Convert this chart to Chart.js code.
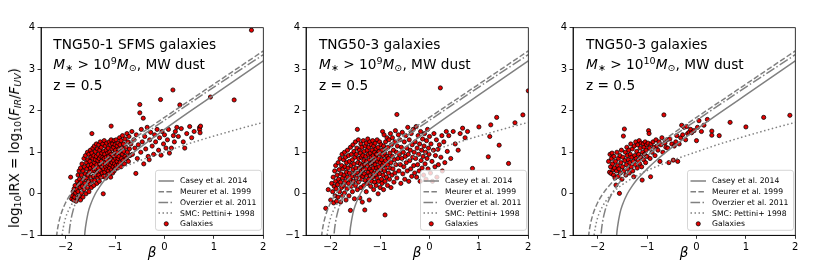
<!DOCTYPE html>
<html><head><meta charset="utf-8">
<script src="https://cdn.jsdelivr.net/npm/chart.js@4/dist/chart.umd.min.js"></script>
<style>
body{margin:0;background:#fff;width:830px;height:277px;overflow:hidden;position:relative;font-family:"DejaVu Sans",sans-serif;}
canvas{position:absolute;top:0;}
.ann{position:absolute;font-size:13.7px;white-space:nowrap;line-height:20px;color:#000;}
.ann sub,.ylab sub{font-size:0.7em;vertical-align:-0.25em;line-height:0;}
.ann sup{font-size:0.7em;vertical-align:0.5em;line-height:0;}
.ylab{position:absolute;font-size:13.4px;white-space:nowrap;line-height:16px;color:#000;transform:translate(-50%,-50%) rotate(-90deg);}
</style></head><body>
<canvas id="c1" width="275" height="277" style="left:0px"></canvas>
<canvas id="c2" width="270" height="277" style="left:275px"></canvas>
<canvas id="c3" width="285" height="277" style="left:545px"></canvas>

<div class="ylab" style="left:15px;top:148px">log<sub>10</sub>IRX = log<sub>10</sub>(<i>F</i><sub><i>IR</i></sub>/<i>F</i><sub><i>UV</i></sub>)</div>

<div class="ann" style="left:53.3px;top:33.6px">TNG50-1 SFMS galaxies</div>
<div class="ann" style="left:53.3px;top:54.1px"><i>M</i><sub>∗</sub> &gt; 10<sup>9</sup><i>M</i><sub>⊙</sub>, MW dust</div>
<div class="ann" style="left:53.3px;top:75.3px">z = 0.5</div>

<div class="ann" style="left:319px;top:33.6px">TNG50-3 galaxies</div>
<div class="ann" style="left:319px;top:54.1px"><i>M</i><sub>∗</sub> &gt; 10<sup>9</sup><i>M</i><sub>⊙</sub>, MW dust</div>
<div class="ann" style="left:319px;top:75.3px">z = 0.5</div>

<div class="ann" style="left:586px;top:33.6px">TNG50-3 galaxies</div>
<div class="ann" style="left:586px;top:54.1px"><i>M</i><sub>∗</sub> &gt; 10<sup>10</sup><i>M</i><sub>⊙</sub>, MW dust</div>
<div class="ann" style="left:586px;top:75.3px">z = 0.5</div>

<script>
// ---------- DATA ----------
const xTicks = [-2, -1, 0, 1, 2];
const yTicks = [-1, 0, 1, 2, 3, 4];

const caseyBeta = [-1.625,-1.615,-1.6,-1.55,-1.5,-1.4,-1.3,-1.2,-1.0,-0.8,-0.5,0,0.5,1,1.5,2];
const caseyIrx  = [-1.15,-0.98,-0.81,-0.47,-0.27,0.00,0.19,0.35,0.60,0.82,1.11,1.55,1.97,2.38,2.79,3.20];

const meurerBeta = [-2.2,-2.18,-2.15,-2.1,-2.0,-1.9,-1.8,-1.6,-1.4,-1.2,-1.0,-0.5,0,0.5,1,1.5,2];
const meurerIrx  = [-1.24,-0.98,-0.75,-0.51,-0.21,-0.01,0.15,0.41,0.63,0.82,1.00,1.43,1.84,2.24,2.64,3.04,3.44];

const overzierBeta = [-1.95,-1.93,-1.9,-1.85,-1.8,-1.7,-1.6,-1.4,-1.2,-1.0,-0.5,0,0.5,1,1.5,2];
const overzierIrx  = [-1.34,-0.95,-0.67,-0.40,-0.22,0.03,0.21,0.49,0.72,0.92,1.36,1.77,2.17,2.57,2.96,3.35];

const smcBeta = [-2.09,-2.07,-2.05,-2.0,-1.9,-1.8,-1.6,-1.4,-1.2,-1.0,-0.5,0,0.5,1,1.5,2];
const smcIrx  = [-1.19,-0.97,-0.82,-0.57,-0.30,-0.12,0.13,0.30,0.44,0.56,0.80,1.01,1.21,1.39,1.56,1.72];

const galaxies1 = [
[-1.88,-0.12],[-1.86,-0.05],[-1.85,0.05],[-1.84,-0.15],[-1.83,0.12],[-1.82,-0.08],[-1.81,0.2],[-1.80,0.02],[-1.90,0.40],[-1.79,-0.18],[-1.78,0.1],[-1.77,0.3],
[-1.76,-0.1],[-1.75,0.45],[-1.75,0.05],[-1.74,0.22],[-1.73,0.55],[-1.72,-0.05],[-1.72,0.35],[-1.71,0.15],[-1.70,0.62],[-1.70,-0.15],[-1.69,0.28],[-1.68,0.45],[-1.68,0.02],[-1.67,0.72],[-1.66,0.18],
[-1.65,0.55],[-1.65,-0.08],[-1.64,0.35],[-1.63,0.85],[-1.63,0.1],[-1.62,0.65],[-1.61,0.25],[-1.60,0.48],[-1.60,0.92],[-1.59,0.0],[-1.58,0.75],[-1.58,0.38],[-1.57,0.6],[-1.56,0.15],[-1.56,1.0],[-1.55,0.45],[-1.55,0.82],
[-1.54,0.3],[-1.54,0.68],[-1.53,0.95],[-1.53,0.05],[-1.52,0.52],[-1.51,0.78],[-1.51,0.22],[-1.50,1.05],[-1.50,0.62],[-1.49,0.4],[-1.49,0.88],[-1.48,0.15],[-1.48,0.7],[-1.47,1.45],[-1.47,0.98],[-1.46,0.55],[-1.46,0.32],[-1.45,0.85],[-1.45,1.1],
[-1.44,0.65],[-1.44,0.42],[-1.43,0.92],[-1.43,0.2],[-1.42,0.75],[-1.42,1.15],[-1.41,0.55],[-1.41,0.32],[-1.40,1.02],[-1.40,0.82],[-1.39,0.6],[-1.39,0.45],[-1.38,1.2],[-1.38,0.9],[-1.37,0.7],[-1.37,0.25],[-1.36,1.08],[-1.36,0.52],[-1.35,0.8],[-1.35,0.38],
[-1.34,0.95],[-1.34,0.62],[-1.33,1.18],[-1.33,0.45],[-1.32,0.85],[-1.32,0.3],[-1.31,1.05],[-1.31,0.72],[-1.30,0.55],[-1.30,1.25],[-1.29,0.9],[-1.29,0.4],[-1.28,0.78],[-1.28,1.12],[-1.27,0.65],[-1.27,0.98],[-1.26,0.5],[-1.24,0.0],[-1.25,0.88],[-1.25,1.2],
[-1.24,0.7],[-1.24,0.42],[-1.23,1.02],[-1.23,0.6],[-1.22,0.85],[-1.22,1.28],[-1.21,0.52],[-1.21,0.95],[-1.20,0.75],[-1.20,1.15],[-1.19,0.65],[-1.19,0.38],[-1.18,1.05],[-1.18,0.88],[-1.17,0.58],[-1.17,1.22],[-1.16,0.8],[-1.16,0.45],[-1.15,0.98],[-1.15,0.68],
[-1.14,1.1],[-1.14,0.55],[-1.13,0.9],[-1.13,0.72],[-1.12,1.25],[-1.12,0.48],[-1.11,1.0],[-1.11,0.62],[-1.10,0.82],[-1.10,1.18],[-1.09,0.7],[-1.09,0.4],[-1.08,0.95],[-1.08,1.3],[-1.07,0.58],[-1.07,0.88],[-1.06,1.08],[-1.06,0.75],[-1.05,0.5],[-1.05,1.2],
[-1.04,0.92],[-1.04,0.65],[-1.03,1.12],[-1.03,0.8],[-1.02,1.28],[-1.02,0.55],[-1.01,0.98],[-1.01,0.72],[-1.00,1.18],[-1.00,0.6],[-0.99,0.85],[-0.99,1.05],[-0.98,0.68],[-0.98,1.3],[-0.97,0.92],[-0.96,0.78],[-0.96,1.15],[-0.95,0.62],[-0.95,1.0],[-1.08,1.63],
[-0.94,0.85],[-0.94,1.22],[-0.93,0.7],[-0.92,1.08],[-0.92,0.9],[-0.91,1.35],[-0.90,0.75],[-0.90,1.18],[-0.89,0.98],[-0.88,0.65],[-0.88,1.28],[-0.87,0.85],[-0.86,1.1],[-0.85,0.95],[-0.85,1.4],
[-0.84,0.8],[-0.83,1.2],[-0.82,1.02],[-0.81,0.72],[-0.80,1.32],[-0.80,0.9],[-0.78,1.12],[-0.77,0.85],[-0.76,1.45],[-0.75,1.0],[-0.74,1.25],[-0.73,0.78],[-0.72,1.38],[-0.71,1.08],[-0.70,0.92],
[-0.68,1.2],[-0.66,1.5],[-0.65,0.95],[-0.62,1.3],[-0.6,1.1],[-0.58,0.49],[-0.57,1.42],[-0.55,0.85],[-0.53,1.18],[-0.5,2.15],[-0.5,1.95],[-0.48,1.0],[-0.47,1.55],[-0.45,1.25],[-0.43,1.82],[-0.42,0.72],[-0.4,1.38],[-0.38,1.08],[-0.35,1.6],[-0.33,0.9],[-0.31,0.82],[-0.3,1.3],[-0.28,1.48],[-0.25,1.15],[-0.22,0.95],[-0.2,1.42],[-0.18,1.25],[-0.15,1.55],[-0.12,1.05],[-0.1,1.35],[-0.08,2.27],[-0.07,0.93],[-0.05,1.5],[-0.02,1.2],[0.0,1.42],[0.03,1.1],[0.06,1.3],[0.08,1.55],[0.1,0.98],[0.14,1.1],[0.17,2.5],[0.18,1.4],[0.2,1.25],[0.22,1.5],[0.25,1.6],[0.28,1.38],[0.31,2.14],[0.34,1.57],[0.38,1.25],[0.41,1.10],[0.45,1.45],[0.51,1.62],[0.55,1.35],[0.6,1.5],[0.71,1.60],[0.71,1.55],[0.72,1.47],[0.73,1.63],[0.93,2.33],[1.41,2.26],[1.76,3.94]
];

const galaxies2 = [
[-2.10,-0.35],[-2.05,0.1],[-2.0,-0.15],[-1.98,0.25],[-1.96,0.05],[-1.95,0.4],[-1.94,-0.22],[-1.93,0.18],[-1.92,0.55],[-1.91,-0.05],[-1.90,0.3],[-1.90,0.68],[-1.89,0.12],[-1.88,-0.18],
[-1.87,0.45],[-1.86,0.22],[-1.85,0.75],[-1.85,-0.08],[-1.84,0.35],[-1.83,0.58],[-1.82,0.05],[-1.81,0.85],[-1.80,0.28],[-1.80,-0.2],[-1.79,0.48],[-1.78,0.68],[-1.78,0.15],[-1.77,0.95],[-1.76,0.38],[-1.76,-0.05],[-1.75,0.6],
[-1.74,0.82],[-1.74,0.2],[-1.73,0.45],[-1.72,1.0],[-1.72,0.02],[-1.71,0.65],[-1.70,0.3],[-1.70,0.88],[-1.69,-0.15],[-1.68,0.52],[-1.68,0.75],[-1.67,0.12],[-1.66,1.05],[-1.66,0.4],[-1.65,0.62],[-1.64,0.25],[-1.64,0.92],[-1.63,-0.05],[-1.62,0.78],[-1.62,0.5],[-1.61,0.35],[-1.60,1.12],[-1.60,-0.4],
[-1.59,0.68],[-1.58,0.18],[-1.58,0.95],[-1.57,0.42],[-1.56,0.82],[-1.56,0.05],[-1.55,1.18],[-1.55,0.58],[-1.54,0.3],[-1.53,0.72],[-1.53,1.02],[-1.52,-0.12],[-1.52,0.48],[-1.51,0.88],[-1.50,0.2],[-1.50,1.25],[-1.49,0.62],[-1.48,0.38],[-1.48,0.95],[-1.47,1.1],[-1.46,1.55],[-1.46,0.1],[-1.45,0.75],[-1.45,0.5],
[-1.44,1.3],[-1.44,0.28],[-1.43,0.85],[-1.42,0.62],[-1.42,1.05],[-1.41,-0.1],[-1.41,0.45],[-1.40,0.98],[-1.40,0.72],[-1.39,1.2],[-1.39,0.15],[-1.38,0.55],[-1.38,0.88],[-1.37,0.35],[-1.37,1.12],[-1.36,0.68],[-1.36,-0.2],[-1.35,0.92],[-1.35,0.42],[-1.34,1.28],[-1.34,0.58],[-1.33,0.8],[-1.33,0.2],[-1.32,1.02],[-1.32,0.48],[-1.31,-0.39],[-1.31,0.7],[-1.30,1.15],[-1.30,0.32],
[-1.29,0.9],[-1.29,0.6],[-1.28,1.22],[-1.28,0.05],[-1.27,0.78],[-1.27,0.42],[-1.26,1.05],[-1.26,0.25],[-1.25,0.68],[-1.25,1.32],[-1.24,0.52],[-1.24,0.95],[-1.23,0.35],[-1.23,1.12],[-1.22,0.82],[-1.22,-0.15],[-1.21,0.6],[-1.21,1.25],[-1.20,0.45],[-1.20,0.98],[-1.19,0.72],[-1.19,0.18],[-1.18,1.18],[-1.18,0.88],[-1.17,0.55],[-1.17,0.3],[-1.16,1.05],[-1.16,0.75],[-1.15,0.4],[-1.15,1.28],
[-1.14,0.62],[-1.14,0.92],[-1.13,0.1],[-1.13,1.15],[-1.12,0.5],[-1.12,0.8],[-1.11,1.0],[-1.11,0.28],[-1.10,0.7],[-1.10,1.22],[-1.09,0.45],[-1.09,0.88],[-1.08,1.08],[-1.08,0.2],[-1.07,0.62],[-1.07,0.95],[-1.06,1.3],[-1.06,0.38],[-1.05,0.78],[-1.05,0.55],[-1.04,1.12],[-1.04,0.0],[-1.03,0.85],[-1.03,0.3],[-1.02,1.02],[-1.02,0.65],[-1.01,0.48],[-1.01,1.25],[-1.00,0.75],[-1.00,0.15],
[-0.99,0.95],[-0.98,0.58],[-0.98,1.18],[-0.97,0.35],[-0.97,0.82],[-0.96,1.05],[-0.96,0.25],[-0.95,1.5],[-0.95,0.68],[-0.94,0.45],[-0.94,0.92],[-0.93,1.15],[-0.93,0.1],[-0.92,0.75],[-0.92,1.42],[-0.91,0.55],[-0.91,0.98],[-0.90,-0.51],[-0.90,0.3],[-0.89,1.25],[-0.89,0.8],[-0.88,0.62],[-0.88,1.08],[-0.87,0.4],[-0.86,0.9],[-0.86,1.35],[-0.85,0.2],[-0.85,0.7],
[-0.84,1.12],[-0.83,0.5],[-0.83,0.85],[-0.82,1.3],[-0.81,0.35],[-0.80,0.98],[-0.80,0.62],[-0.79,1.45],[-0.78,0.75],[-0.78,0.15],[-0.77,1.18],[-0.76,0.45],[-0.75,0.9],[-0.75,1.35],[-0.74,0.6],[-0.73,1.05],[-0.72,0.28],[-0.71,0.82],[-0.70,1.25],[-0.70,0.5],[-0.69,1.52],[-0.68,0.7],[-0.67,1.0],[-0.66,1.91],[-0.66,0.38],[-0.65,1.15],[-0.64,0.85],[-0.63,1.42],[-0.62,0.55],[-0.61,0.95],[-0.60,1.3],
[-0.59,0.7],[-0.58,0.25],[-0.57,1.12],[-0.56,0.85],[-0.55,1.48],[-0.54,0.48],[-0.53,1.0],[-0.52,0.65],[-0.51,1.25],[-0.50,0.35],[-0.49,0.9],[-0.48,1.4],[-0.47,0.75],[-0.46,1.1],[-0.45,0.55],[-0.44,1.6],[-0.43,0.95],[-0.42,0.3],[-0.41,1.3],[-0.40,0.8],[-0.39,1.05],[-0.38,0.6],[-0.37,1.45],[-0.36,0.42],[-0.35,1.18],[-0.34,0.88],[-0.33,1.55],[-0.32,0.68],[-0.31,1.0],[-0.30,0.5],
[-0.29,1.25],[-0.28,0.85],[-0.27,1.62],[-0.26,0.4],[-0.25,1.1],[-0.24,0.7],[-0.23,1.4],[-0.22,0.95],[-0.21,0.55],[-0.20,1.2],[-0.19,0.3],[-0.18,1.5],[-0.17,0.8],[-0.16,1.05],[-0.15,0.62],[-0.14,1.32],[-0.13,0.9],[-0.12,0.45],[-0.11,1.15],[-0.10,1.45],[-0.09,0.72],[-0.08,1.0],[-0.07,0.35],[-0.06,1.28],[-0.05,0.85],[-0.04,1.55],[-0.03,0.6],[-0.02,1.1],[-0.01,0.95],[0.0,1.38],
[0.02,0.5],[0.03,1.2],[0.05,0.78],[0.06,0.3],[0.08,1.05],[0.09,1.45],[0.11,0.65],[0.12,0.92],[0.14,1.3],[0.15,0.4],[0.17,1.07],[0.18,0.7],[0.2,1.18],[0.22,2.55],[0.23,0.88],[0.25,1.4],[0.26,0.55],[0.29,1.25],[0.31,0.75],[0.34,1.5],[0.36,1.02],[0.39,1.4],[0.43,0.85],[0.48,1.5],[0.52,1.2],
[0.58,1.05],[0.62,1.45],[0.67,1.58],[0.72,1.35],[0.77,1.5],[0.87,0.61],[1.0,1.61],[1.19,0.89],[1.22,1.38],[1.24,1.66],[1.36,1.84],[1.41,1.17],[1.6,0.73],[1.73,1.71],[1.89,1.9],[2.0,2.48]
];

const galaxies3 = [
[-1.78,0.78],[-1.76,0.52],[-1.75,0.95],[-1.74,0.65],[-1.73,0.49],[-1.72,0.85],[-1.71,0.98],[-1.70,0.72],[-1.69,0.58],[-1.68,0.45],[-1.67,0.9],[-1.66,0.62],[-1.65,0.38],[-1.64,0.78],[-1.63,0.21],[-1.62,0.55],[-1.61,1.0],[-1.60,0.68],[-1.59,0.42],[-1.58,0.85],[-1.57,0.6],[-1.56,0.01],[-1.55,0.92],[-1.54,0.5],[-1.53,0.75],[-1.52,1.05],[-1.51,0.35],[-1.50,0.65],[-1.49,0.88],[-1.48,1.39],[-1.47,0.55],[-1.46,1.56],[-1.45,0.8],[-1.44,1.0],[-1.43,0.45],[-1.42,0.7],[-1.41,1.12],[-1.40,0.92],[-1.39,0.6],[-1.38,0.82],[-1.37,1.05],[-1.36,0.5],[-1.35,0.75],[-1.34,0.95],[-1.33,1.2],[-1.32,0.65],[-1.31,0.88],[-1.30,1.08],[-1.29,0.55],[-1.28,0.78],[-1.27,0.41],[-1.26,1.15],[-1.25,0.92],[-1.24,0.7],[-1.23,1.25],[-1.22,0.85],[-1.21,1.02],[-1.20,0.62],[-1.19,1.18],[-1.18,0.8],[-1.17,0.95],[-1.16,1.28],[-1.15,0.72],[-1.14,1.1],[-1.13,0.88],[-1.12,1.22],[-1.11,0.65],[-1.10,0.33],[-1.09,1.0],[-1.08,1.2],[-1.07,0.82],[-1.06,1.12],[-1.05,0.95],[-1.04,1.25],[-1.03,0.75],[-1.02,1.05],[-1.01,1.18],[-1.0,0.9],[-0.98,1.22],[-0.97,1.52],[-0.96,1.45],[-0.95,1.1],[-0.94,0.85],[-0.93,0.41],[-0.92,1.2],[-0.9,1.0],[-0.88,1.25],[-0.86,1.12],[-0.84,0.92],[-0.82,1.3],[-0.8,1.15],[-0.78,1.05],[-0.76,1.25],[-0.74,0.78],[-0.72,1.18],[-0.7,1.35],[-0.68,1.0],[-0.66,1.9],[-0.64,1.22],[-0.62,1.12],[-0.6,1.3],[-0.58,1.1],[-0.56,0.75],[-0.54,1.32],[-0.5,1.2],[-0.47,0.81],[-0.45,1.15],[-0.42,1.25],[-0.4,1.4],[-0.38,0.78],[-0.35,1.2],[-0.32,1.35],[-0.3,1.65],[-0.28,1.42],[-0.25,1.6],[-0.22,1.3],[-0.2,1.62],[-0.18,1.45],[-0.15,1.48],[-0.12,1.55],[-0.1,1.47],[-0.05,1.52],[0.0,1.28],[0.02,1.6],[0.05,1.76],[0.1,1.5],[0.15,1.65],[0.22,1.79],[0.31,1.51],[0.31,1.41],[0.46,1.40],[0.68,1.72],[1.0,1.61],[1.36,1.84],[1.89,1.89]
];

// ---------- RENDERING ----------
const FONT = '"DejaVu Sans", sans-serif';
const GRAY = '#808080';
const fmt = v => (v < 0 ? '\u2212' + Math.abs(v) : String(v));
const pairs = (xs, ys) => xs.map((x, i) => ({x, y: ys[i]}));

const frameAndLegend = {
  id: 'frameAndLegend',
  afterDatasetsDraw(chart) {
    const ctx = chart.ctx, a = chart.chartArea;
    ctx.save();
    ctx.strokeStyle = '#000'; ctx.lineWidth = 0.8;
    ctx.strokeRect(a.left, a.top, a.right - a.left, a.bottom - a.top);
    const w = 106, h = 60;
    const right = a.right - 1.8, bottom = a.bottom - 5;
    const left = right - w, top = bottom - h;
    ctx.beginPath();
    if (ctx.roundRect) ctx.roundRect(left, top, w, h, 2.5); else ctx.rect(left, top, w, h);
    ctx.fillStyle = 'rgba(255,255,255,0.8)'; ctx.fill();
    ctx.strokeStyle = '#cccccc'; ctx.lineWidth = 0.8; ctx.stroke();
    const items = chart.data.datasets.filter(d => d.legendRank !== undefined).sort((p, q) => p.legendRank - q.legendRank);
    ctx.font = '7.7px ' + FONT; ctx.textBaseline = 'middle'; ctx.textAlign = 'left';
    items.forEach((d, i) => {
      const cy = top + 10.7 + i * 10.7;
      const hx0 = left + 3, hx1 = left + 18.5;
      if (d.type === 'line') {
        ctx.beginPath();
        ctx.setLineDash(d.borderDash || []);
        ctx.strokeStyle = d.borderColor; ctx.lineWidth = d.borderWidth;
        ctx.moveTo(hx0, cy); ctx.lineTo(hx1, cy); ctx.stroke();
        ctx.setLineDash([]);
      } else {
        ctx.beginPath();
        ctx.arc((hx0 + hx1) / 2, cy, d.pointRadius, 0, Math.PI * 2);
        ctx.fillStyle = d.backgroundColor; ctx.fill();
        ctx.strokeStyle = d.borderColor; ctx.lineWidth = d.borderWidth; ctx.stroke();
      }
      ctx.fillStyle = '#000';
      ctx.fillText(d.label, left + 24.5, cy + 0.5);
    });
    ctx.restore();
  }
};

function makePanel(id, galaxies, yWidth, padRight) {
  const lineDs = (label, xs, ys, dash, rank) => ({
    type: 'line', label, data: pairs(xs, ys), borderColor: GRAY, borderWidth: 1.5,
    borderDash: dash, pointRadius: 0, fill: false, cubicInterpolationMode: 'monotone',
    order: 1, legendRank: rank
  });
  new Chart(document.getElementById(id), {
    type: 'scatter',
    data: {
      datasets: [
        lineDs('Casey et al. 2014', caseyBeta, caseyIrx, [], 0),
        lineDs('Meurer et al. 1999', meurerBeta, meurerIrx, [5.5, 2.4], 1),
        lineDs('Overzier et al. 2011', overzierBeta, overzierIrx, [9.6, 2.4, 1.5, 2.4], 2),
        lineDs('SMC: Pettini+ 1998', smcBeta, smcIrx, [1.5, 2.5], 3),
        { type: 'scatter', label: 'Galaxies', data: galaxies.map(p => ({x: p[0], y: p[1]})),
          backgroundColor: '#e60000', borderColor: '#000', borderWidth: 0.75, pointRadius: 2.1,
          order: 5, legendRank: 4 }
      ]
    },
    options: {
      responsive: false, animation: false, events: [], devicePixelRatio: 1,
      layout: { padding: { left: 0, right: padRight, top: 27.7, bottom: 0 } },
      plugins: { legend: { display: false }, tooltip: { enabled: false } },
      scales: {
        x: {
          type: 'linear', min: -2.5, max: 2,
          afterBuildTicks: s => { s.ticks = xTicks.map(v => ({value: v})); },
          afterFit: s => { s.height = 41.7; },
          ticks: { autoSkip: false, maxRotation: 0, padding: 2.5, color: '#000', font: {family: FONT, size: 10}, callback: v => fmt(v) },
          grid: { display: true, drawOnChartArea: false, drawTicks: true, tickLength: 3.5, color: '#000', lineWidth: 0.8 },
          border: { display: true, color: '#000', width: 0.8 },
          title: { display: true, text: 'β', color: '#000', font: {family: FONT, size: 13.5, style: 'italic', lineHeight: 1.2}, padding: {top: 0, bottom: 15.6} }
        },
        y: {
          type: 'linear', min: -1, max: 4,
          afterBuildTicks: s => { s.ticks = yTicks.map(v => ({value: v})); },
          afterFit: s => { s.width = yWidth; },
          ticks: { autoSkip: false, padding: 2.5, color: '#000', font: {family: FONT, size: 10}, callback: v => fmt(v) },
          grid: { display: true, drawOnChartArea: false, drawTicks: true, tickLength: 3.5, color: '#000', lineWidth: 0.8 },
          border: { display: true, color: '#000', width: 0.8 }
        }
      }
    },
    plugins: [frameAndLegend]
  });
}

makePanel('c1', galaxies1, 41, 11.7);
makePanel('c2', galaxies2, 31, 16.7);
makePanel('c3', galaxies3, 28, 34.7);
</script>
</body></html>
